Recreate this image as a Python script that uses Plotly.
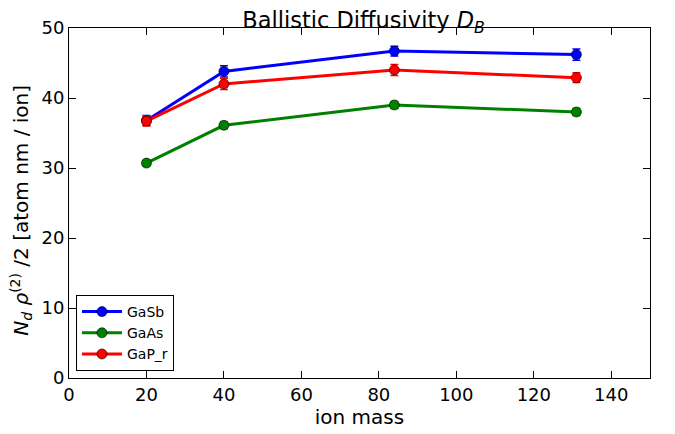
import plotly.graph_objects as go

ion_mass = [20, 40, 84, 131]
gasb = [36.8, 43.8, 46.7, 46.2]
gasb_err = [0.7, 0.8, 0.7, 0.8]
gaas = [30.7, 36.1, 39.0, 38.0]
gaas_err = [0.4, 0.5, 0.5, 0.5]
gap_r = [36.7, 42.0, 44.0, 42.9]
gap_r_err = [0.7, 0.8, 0.8, 0.7]

series = [
    ("GaSb", gasb, gasb_err, "#0000ff"),
    ("GaAs", gaas, gaas_err, "#008000"),
    ("GaP_r", gap_r, gap_r_err, "#ff0000"),
]

fig = go.Figure()
for name, ys, errs, color in series:
    fig.add_trace(go.Scatter(
        x=ion_mass, y=ys, name=name, mode="lines+markers",
        line=dict(color=color, width=3),
        marker=dict(color=color, size=10, line=dict(color="#000000", width=0.6)),
        error_y=dict(type="data", array=errs, color=color, thickness=1.5, width=4),
    ))

font = "DejaVu Sans, sans-serif"
axis_common = dict(
    showline=True, linecolor="black", linewidth=1, mirror="ticks",
    ticks="inside", ticklen=7, tickcolor="black", showgrid=False, zeroline=False,
    automargin=False,
    tickfont=dict(size=18, color="black", family=font),
)
fig.update_layout(
    width=675, height=434,
    margin=dict(l=61, r=33, t=20, b=64),
    paper_bgcolor="white", plot_bgcolor="white",
    title=dict(text="Ballistic Diffusivity <i>D</i><sub><i>B</i></sub>",
               x=0.347, xanchor="left", y=0.99, yanchor="top", pad=dict(t=0, b=0),
               font=dict(size=22.5, color="black", family=font)),
    xaxis=dict(range=[0, 150], dtick=20,
               title=dict(text="ion mass", font=dict(size=20, color="black", family=font), standoff=4),
               **axis_common),
    yaxis=dict(range=[0, 50], dtick=10, **axis_common),
    legend=dict(x=0.012, y=0.02, xanchor="left", yanchor="bottom",
                bgcolor="white", bordercolor="black", borderwidth=1,
                font=dict(size=14, color="black", family=font),
                tracegroupgap=0, itemwidth=40),
    showlegend=True,
)
fig.add_annotation(
    text="<i>N<sub>d</sub> ρ</i><sup>(2)</sup> /2 [atom nm / ion]",
    xref="paper", yref="paper", x=-0.083, y=0.48,
    xanchor="center", yanchor="middle", textangle=-90, showarrow=False,
    font=dict(size=20, color="black", family=font),
)

fig.write_html("out.html")
